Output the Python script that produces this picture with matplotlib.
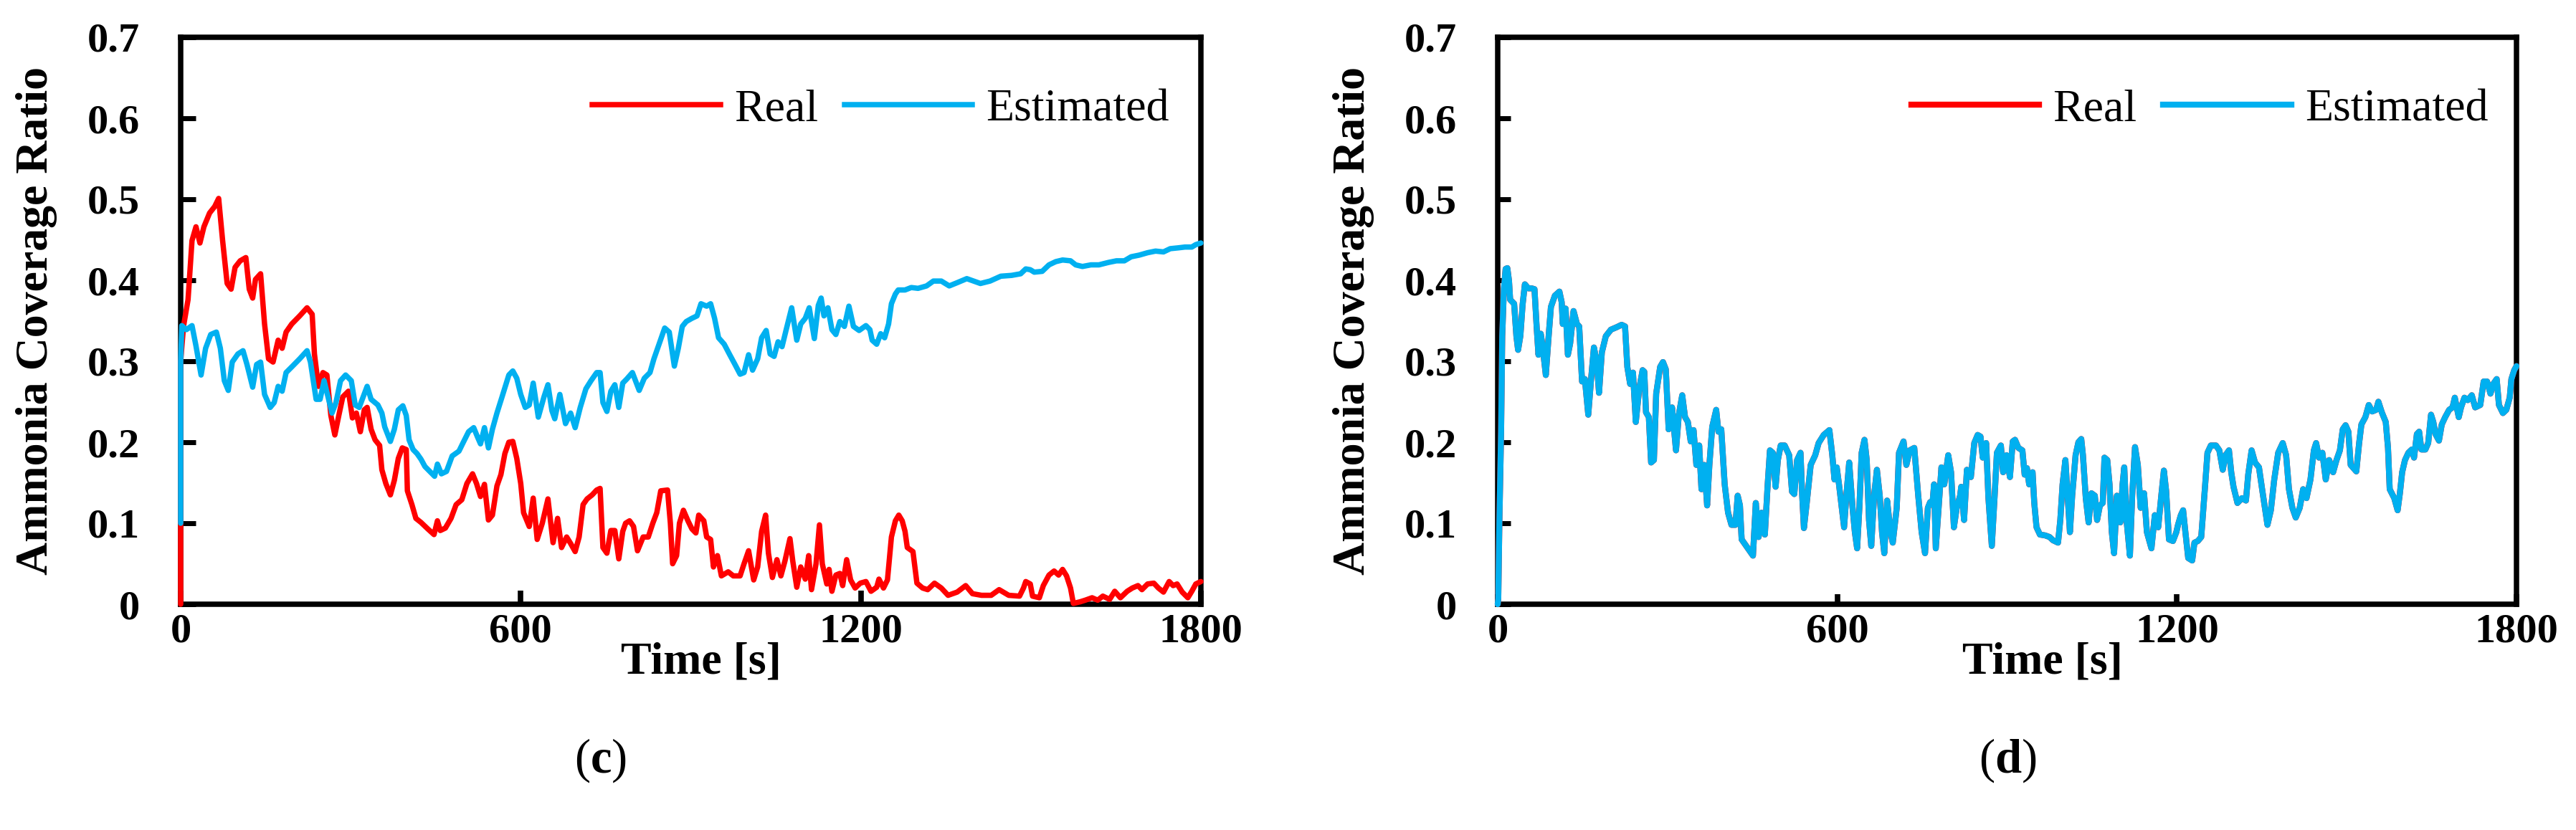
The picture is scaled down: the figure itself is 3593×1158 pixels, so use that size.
import matplotlib
matplotlib.use("Agg")
import matplotlib.pyplot as plt
from matplotlib.lines import Line2D
from matplotlib.font_manager import FontProperties

plt.rcParams['font.family'] = ['Liberation Serif', 'DejaVu Serif']
plt.rcParams['mathtext.fontset'] = 'custom'
plt.rcParams['mathtext.rm'] = 'Liberation Serif'
plt.rcParams['mathtext.bf'] = 'Liberation Serif:bold'

# ---------------- data: panel (c) ----------------
real_c = [(0,0.000),(0,0.300),(5,0.343),(13,0.376),(20,0.449),(27,0.466),(34,0.446),(41,0.466),(51,0.483),(60,0.491),(67,0.501),(74,0.449),(82,0.396),(89,0.389),(96,0.416),(105,0.424),(115,0.428),(121,0.389),(127,0.378),(132,0.401),(141,0.408),(148,0.346),(155,0.303),(163,0.299),(172,0.326),(179,0.316),(186,0.336),(196,0.346),(210,0.356),(223,0.366),(232,0.358),(236,0.309),(243,0.269),(251,0.286),(258,0.283),(265,0.233),(272,0.209),(279,0.233),(286,0.256),(296,0.263),(303,0.230),(310,0.236),(317,0.213),(324,0.240),(329,0.243),(336,0.216),(343,0.203),(351,0.196),(355,0.166),(362,0.149),(370,0.135),(377,0.153),(384,0.180),(391,0.193),(398,0.191),(400,0.140),(408,0.123),(415,0.106),(424,0.101),(436,0.093),(447,0.086),(453,0.103),(458,0.091),(467,0.094),(477,0.106),(486,0.123),(496,0.129),(505,0.149),(515,0.161),(522,0.149),(529,0.133),(536,0.148),(543,0.104),(550,0.110),(558,0.146),(565,0.160),(572,0.186),(579,0.200),(586,0.201),(593,0.180),(600,0.149),(605,0.113),(615,0.096),(622,0.131),(629,0.080),(638,0.100),(648,0.130),(657,0.076),(665,0.106),(672,0.070),(681,0.083),(688,0.075),(696,0.065),(703,0.083),(710,0.123),(717,0.130),(726,0.135),(734,0.141),(740,0.143),(745,0.070),(752,0.063),(759,0.091),(766,0.091),(773,0.056),(780,0.090),(785,0.100),(792,0.103),(799,0.096),(806,0.066),(816,0.083),(825,0.083),(833,0.100),(840,0.113),(847,0.140),(859,0.141),(864,0.100),(868,0.050),(875,0.060),(880,0.100),(887,0.116),(895,0.103),(902,0.093),(909,0.088),(914,0.110),(923,0.103),(928,0.083),(935,0.080),(940,0.046),(947,0.060),(954,0.035),(966,0.040),(975,0.035),(987,0.035),(994,0.050),(1002,0.066),(1011,0.030),(1018,0.046),(1025,0.090),(1032,0.110),(1037,0.063),(1044,0.033),(1052,0.055),(1059,0.035),(1066,0.053),(1075,0.081),(1080,0.053),(1087,0.021),(1094,0.046),(1102,0.031),(1108,0.060),(1113,0.018),(1121,0.050),(1127,0.098),(1132,0.050),(1140,0.025),(1144,0.043),(1149,0.016),(1156,0.036),(1163,0.038),(1168,0.023),(1175,0.055),(1182,0.030),(1190,0.020),(1199,0.026),(1209,0.028),(1218,0.016),(1228,0.021),(1232,0.031),(1240,0.020),(1247,0.030),(1254,0.083),(1261,0.103),(1267,0.110),(1273,0.103),(1278,0.090),(1282,0.070),(1292,0.065),(1299,0.026),(1309,0.020),(1318,0.018),(1330,0.026),(1342,0.020),(1354,0.011),(1370,0.015),(1385,0.023),(1397,0.013),(1413,0.011),(1430,0.011),(1444,0.018),(1461,0.011),(1480,0.010),(1487,0.020),(1491,0.028),(1499,0.025),(1503,0.010),(1515,0.008),(1522,0.023),(1532,0.036),(1541,0.041),(1549,0.036),(1556,0.043),(1563,0.035),(1570,0.020),(1575,0.001),(1587,0.003),(1596,0.005),(1608,0.008),(1618,0.005),(1627,0.010),(1639,0.006),(1648,0.016),(1658,0.008),(1670,0.016),(1679,0.020),(1689,0.023),(1696,0.018),(1706,0.025),(1717,0.026),(1725,0.020),(1734,0.015),(1744,0.028),(1751,0.023),(1758,0.025),(1767,0.015),(1777,0.008),(1784,0.016),(1791,0.025),(1800,0.028)]

est_c = [(0,0.100),(0,0.300),(2,0.344),(10,0.339),(20,0.344),(27,0.319),(36,0.283),(44,0.316),(53,0.333),(63,0.336),(70,0.316),(77,0.276),(84,0.264),(91,0.299),(101,0.309),(110,0.313),(117,0.296),(127,0.268),(134,0.296),(141,0.299),(148,0.259),(158,0.243),(165,0.249),(172,0.269),(179,0.263),(186,0.286),(196,0.293),(210,0.303),(223,0.313),(229,0.299),(234,0.276),(239,0.253),(246,0.253),(253,0.276),(260,0.256),(267,0.236),(274,0.249),(282,0.276),(291,0.283),(301,0.276),(308,0.246),(315,0.243),(322,0.256),(329,0.269),(336,0.253),(348,0.246),(355,0.236),(360,0.219),(370,0.201),(377,0.216),(384,0.240),(392,0.245),(398,0.233),(403,0.203),(410,0.191),(417,0.186),(424,0.179),(431,0.170),(441,0.163),(448,0.158),(453,0.173),(460,0.161),(469,0.164),(479,0.183),(491,0.189),(498,0.199),(508,0.213),(517,0.218),(524,0.206),(529,0.198),(536,0.218),(543,0.193),(550,0.216),(558,0.236),(567,0.256),(579,0.283),(586,0.288),(593,0.279),(600,0.259),(608,0.243),(615,0.246),(622,0.273),(631,0.231),(641,0.256),(648,0.271),(655,0.239),(660,0.229),(669,0.259),(679,0.223),(688,0.236),(696,0.218),(705,0.243),(715,0.266),(724,0.276),(734,0.286),(740,0.286),(745,0.249),(752,0.238),(759,0.263),(766,0.271),(773,0.243),(780,0.273),(787,0.278),(797,0.286),(809,0.264),(818,0.279),(828,0.286),(835,0.303),(845,0.323),(854,0.341),(862,0.336),(871,0.294),(878,0.316),(885,0.343),(892,0.349),(902,0.353),(911,0.356),(918,0.371),(928,0.368),(935,0.371),(942,0.353),(949,0.329),(959,0.321),(968,0.309),(978,0.296),(987,0.284),(994,0.286),(1002,0.308),(1009,0.289),(1018,0.303),(1025,0.329),(1033,0.338),(1040,0.309),(1047,0.306),(1054,0.324),(1061,0.318),(1068,0.338),(1078,0.366),(1087,0.326),(1094,0.346),(1102,0.353),(1109,0.366),(1118,0.328),(1125,0.369),(1130,0.378),(1135,0.356),(1142,0.366),(1149,0.339),(1156,0.333),(1163,0.349),(1171,0.343),(1179,0.368),(1187,0.343),(1197,0.338),(1209,0.344),(1216,0.339),(1220,0.326),(1228,0.321),(1235,0.334),(1242,0.329),(1249,0.346),(1254,0.371),(1261,0.383),(1266,0.388),(1278,0.388),(1289,0.391),(1301,0.390),(1316,0.393),(1328,0.399),(1342,0.399),(1356,0.393),(1370,0.397),(1387,0.402),(1399,0.399),(1411,0.396),(1428,0.399),(1447,0.405),(1466,0.406),(1482,0.408),(1491,0.414),(1499,0.413),(1506,0.410),(1520,0.411),(1532,0.419),(1544,0.423),(1556,0.425),(1570,0.424),(1579,0.419),(1591,0.417),(1606,0.419),(1620,0.419),(1637,0.422),(1651,0.424),(1665,0.424),(1677,0.429),(1691,0.431),(1706,0.434),(1720,0.436),(1734,0.435),(1746,0.439),(1760,0.440),(1772,0.441),(1784,0.441),(1791,0.444),(1800,0.446)]

# ---------------- data: panel (d) ----------------
# the Real curve lies exactly under the Estimated curve in panel (d)
est_d = [(0,0.000),(1,0.007),(3,0.104),(6,0.213),(8,0.331),(11,0.390),(14,0.414),(17,0.415),(20,0.399),(22,0.376),(29,0.371),(33,0.331),(36,0.314),(40,0.331),(44,0.370),(48,0.395),(54,0.390),(60,0.390),(65,0.389),(69,0.340),(72,0.308),(76,0.334),(79,0.320),(85,0.283),(90,0.331),(94,0.367),(101,0.381),(109,0.386),(113,0.373),(115,0.346),(120,0.365),(124,0.308),(128,0.322),(134,0.362),(140,0.346),(144,0.343),(149,0.275),(154,0.278),(160,0.234),(165,0.278),(170,0.317),(175,0.299),(179,0.261),(184,0.311),(191,0.331),(200,0.339),(210,0.342),(219,0.345),(225,0.343),(229,0.293),(234,0.272),(239,0.286),(244,0.225),(250,0.266),(256,0.289),(259,0.287),(262,0.237),(267,0.231),(271,0.175),(276,0.178),(280,0.260),(287,0.293),(292,0.299),(297,0.290),(302,0.216),(308,0.243),(315,0.190),(320,0.234),(326,0.258),(331,0.231),(336,0.225),(341,0.201),(346,0.215),(351,0.172),(356,0.196),(360,0.142),(365,0.172),(370,0.122),(374,0.172),(379,0.219),(386,0.240),(390,0.213),(395,0.216),(401,0.148),(407,0.113),(413,0.098),(420,0.098),(424,0.134),(428,0.122),(431,0.080),(439,0.072),(445,0.066),(451,0.060),(456,0.125),(461,0.083),(466,0.113),(472,0.086),(477,0.148),(481,0.190),(486,0.187),(491,0.145),(495,0.178),(500,0.196),(507,0.196),(515,0.184),(520,0.139),(524,0.136),(529,0.178),(535,0.187),(538,0.134),(541,0.094),(546,0.125),(553,0.172),(561,0.184),(567,0.199),(576,0.209),(586,0.215),(591,0.185),(595,0.154),(599,0.169),(603,0.148),(608,0.119),(612,0.095),(616,0.134),(621,0.175),(627,0.119),(631,0.089),(635,0.069),(639,0.119),(643,0.187),(648,0.203),(652,0.178),(656,0.104),(660,0.072),(665,0.134),(670,0.166),(675,0.134),(679,0.089),(683,0.063),(688,0.128),(694,0.089),(698,0.076),(705,0.119),(709,0.187),(717,0.201),(722,0.172),(728,0.190),(736,0.193),(743,0.134),(749,0.089),(755,0.063),(760,0.119),(764,0.126),(768,0.123),(771,0.148),(774,0.069),(779,0.119),(784,0.169),(789,0.148),(796,0.184),(801,0.163),(806,0.095),(811,0.119),(817,0.134),(819,0.145),(824,0.104),(829,0.166),(836,0.157),(842,0.199),(848,0.209),(853,0.207),(857,0.181),(863,0.199),(867,0.131),(873,0.072),(878,0.134),(882,0.187),(889,0.196),(893,0.163),(899,0.184),(905,0.157),(910,0.201),(914,0.203),(920,0.193),(927,0.190),(931,0.160),(935,0.168),(939,0.148),(945,0.163),(948,0.125),(952,0.095),(958,0.086),(967,0.085),(975,0.083),(981,0.079),(990,0.076),(994,0.104),(998,0.148),(1003,0.178),(1007,0.134),(1011,0.089),(1015,0.134),(1021,0.184),(1026,0.200),(1031,0.204),(1034,0.184),(1039,0.131),(1044,0.101),(1049,0.137),(1055,0.134),(1059,0.104),(1064,0.122),(1069,0.125),(1072,0.181),(1077,0.178),(1081,0.148),(1085,0.089),(1089,0.063),(1094,0.134),(1100,0.101),(1104,0.148),(1107,0.169),(1111,0.104),(1117,0.060),(1121,0.134),(1126,0.194),(1131,0.172),(1136,0.119),(1142,0.137),(1147,0.089),(1155,0.069),(1161,0.110),(1167,0.095),(1172,0.131),(1177,0.165),(1181,0.140),(1186,0.080),(1193,0.078),(1199,0.089),(1202,0.098),(1207,0.110),(1211,0.116),(1215,0.089),(1220,0.057),(1227,0.054),(1231,0.076),(1237,0.078),(1243,0.083),(1250,0.148),(1254,0.187),(1260,0.196),(1269,0.196),(1275,0.190),(1281,0.166),(1286,0.184),(1292,0.190),(1296,0.163),(1300,0.145),(1307,0.125),(1315,0.131),(1322,0.128),(1326,0.160),(1332,0.190),(1338,0.175),(1345,0.169),(1351,0.140),(1360,0.098),(1366,0.116),(1372,0.154),(1379,0.187),(1387,0.199),(1393,0.184),(1398,0.142),(1404,0.119),(1410,0.107),(1417,0.119),(1423,0.142),(1429,0.131),(1436,0.154),(1442,0.190),(1446,0.199),(1451,0.181),(1457,0.187),(1463,0.154),(1469,0.178),(1476,0.163),(1482,0.178),(1488,0.190),(1493,0.216),(1498,0.221),(1503,0.213),(1507,0.172),(1512,0.168),(1517,0.164),(1522,0.199),(1526,0.222),(1533,0.231),(1539,0.246),(1545,0.238),(1552,0.240),(1556,0.250),(1562,0.237),(1569,0.225),(1573,0.193),(1576,0.142),(1584,0.131),(1590,0.116),(1594,0.137),(1598,0.163),(1603,0.178),(1609,0.187),(1615,0.191),(1619,0.181),(1624,0.210),(1628,0.213),(1632,0.191),(1639,0.191),(1644,0.199),(1649,0.234),(1653,0.225),(1657,0.210),(1663,0.202),(1668,0.222),(1674,0.231),(1681,0.240),(1687,0.243),(1691,0.255),(1698,0.231),(1702,0.243),(1708,0.255),(1714,0.252),(1721,0.258),(1727,0.243),(1736,0.246),(1742,0.275),(1748,0.275),(1754,0.260),(1759,0.272),(1765,0.278),(1769,0.246),(1776,0.236),(1782,0.240),(1788,0.255),(1791,0.278),(1796,0.289),(1800,0.294)]
real_d = list(est_d)

x_ticks = [0, 600, 1200, 1800]
x_ticklabels = ['0', '600', '1200', '1800']
y_ticks = [0, 0.1, 0.2, 0.3, 0.4, 0.5, 0.6, 0.7]
y_ticklabels = ['0', '0.1', '0.2', '0.3', '0.4', '0.5', '0.6', '0.7']
series_names = ['Real', 'Estimated']
panel_tags = ['c', 'd']

RED = '#FF0000'
BLUE = '#00B0F0'

W, H = 3593, 1158
fig = plt.figure(figsize=(W / 100, H / 100), dpi=100)

ax_c = fig.add_axes([252 / W, 1 - 843 / H, 1423 / W, 791 / H])
ax_d = fig.add_axes([2089 / W, 1 - 843 / H, 1421 / W, 791 / H])


def split(pairs):
    return [p[0] for p in pairs], [p[1] for p in pairs]


def style(ax, ylen, xlen, legx, xlab_x, lw):
    ax.set_xlim(0, 1800)
    ax.set_ylim(0, 0.7)
    ax.set_xticks(x_ticks)
    ax.set_xticklabels(x_ticklabels, fontweight='bold')
    ax.set_yticks(y_ticks)
    ax.set_yticklabels(y_ticklabels, fontweight='bold')
    ax.tick_params(axis='y', direction='in', length=ylen, width=5, pad=41,
                   labelsize=42, left=True, right=False)
    ax.tick_params(axis='x', direction='in', length=xlen, width=5.5, pad=9,
                   labelsize=42, bottom=True, top=False)
    for s in ax.spines.values():
        s.set_linewidth(5.4)
        s.set_color('black')
    ax.set_ylabel('Ammonia Coverage Ratio', fontsize=46, fontweight='bold')
    ax.yaxis.set_label_coords(-0.121, 0.5)
    ax.set_xlabel('Time [s]', fontsize=46, fontweight='bold', va='center')
    ax.xaxis.set_label_coords(xlab_x, (843 - 924) / 791)
    handles = [Line2D([], [], color=RED, lw=lw), Line2D([], [], color=BLUE, lw=lw)]
    ax.legend(handles, series_names, loc='center right', bbox_to_anchor=(legx, 0.872),
              ncol=2, frameon=False, prop=FontProperties(family='Liberation Serif', size=46),
              handlelength=2.79, handletextpad=0.3, columnspacing=0.58,
              borderpad=0, borderaxespad=0)


def draw(ax, pairs, color, lw, z):
    t, y = split(pairs)
    ax.plot(t, y, color=color, lw=lw, zorder=z, clip_on=False,
            solid_joinstyle='round', solid_capstyle='round')


draw(ax_c, real_c, RED, 5.4, 3)
draw(ax_c, est_c, BLUE, 5.4, 4)
style(ax_c, 15, 14, 0.969, 0.51, 5.4)

draw(ax_d, real_d, RED, 6, 3)
draw(ax_d, est_d, BLUE, 6, 4)
style(ax_d, 13, 10, 0.972, 0.535, 6)

for tag, xc in zip(panel_tags, [838, 2800]):
    fig.text(xc / W, 1 - 1061 / H, '(' + r'$\mathbf{' + tag + '}$' + ')',
             ha='center', va='center', fontsize=48)

fig.savefig('out.png', dpi=100, facecolor='white')
